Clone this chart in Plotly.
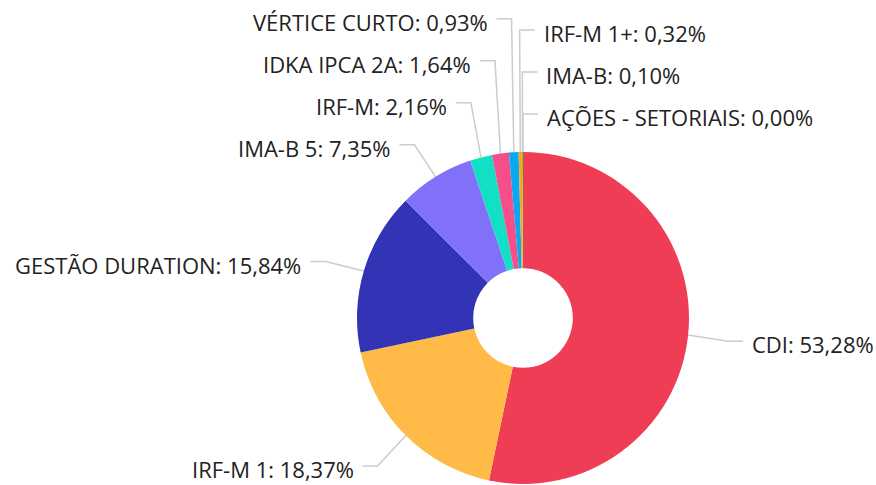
import math
import plotly.graph_objects as go

# ---- data ----
labels = ["CDI", "IRF-M 1", "GESTÃO DURATION", "IMA-B 5", "IRF-M",
          "IDKA IPCA 2A", "VÉRTICE CURTO", "IRF-M 1+", "IMA-B", "AÇÕES - SETORIAIS"]
values = [53.28, 18.37, 15.84, 7.35, 2.16, 1.64, 0.93, 0.32, 0.10, 0.00]
colors = ["#EE3D54", "#FFBA47", "#3333B5", "#8170FA", "#12E0C6",
          "#F64E8B", "#0AA8F0", "#F5A623", "#7ED321", "#9B9B9B"]

# ---- layout constants ----
W, H = 876, 485
cx, cy, R = 523, 318, 166
HOLE = 0.30
L1, L2, GAP, SPACING = 40, 15, 8, 42
LINE_DY, TEXT_DY = 2, 3
FONT = dict(family="Open Sans", size=22, color="#222222")
LINE_COLOR = "#CCCCCC"

def fmt(v):
    return f"{v:.2f}".replace(".", ",") + "%"

total = sum(values)
items = []
cum = 0.0
for i, (lab, v) in enumerate(zip(labels, values)):
    mid = (cum + v / 2) / total * 2 * math.pi
    cum += v
    dx, dy = math.sin(mid), -math.cos(mid)
    ex, ey = cx + R * dx, cy + R * dy
    px, py = cx + (R + L1) * dx, cy + (R + L1) * dy + LINE_DY
    side = 1 if ex >= cx - 4 else -1
    items.append(dict(i=i, lab=lab, v=v, ex=ex, ey=ey, px=px, py=py, side=side))

# resolve vertical overlaps per side (push upward from the bottom-most label)
for s in (1, -1):
    grp = [it for it in items if it["side"] == s]
    grp.sort(key=lambda it: (-round(it["py"]), -it["i"]))
    prev = None
    for it in grp:
        if prev is not None:
            it["py"] = min(it["py"], prev - SPACING)
        prev = it["py"]

fig = go.Figure()
fig.add_trace(go.Pie(
    labels=labels, values=values, sort=False, direction="clockwise",
    rotation=0, hole=HOLE, marker=dict(colors=colors, line=dict(width=0)),
    textinfo="none", hoverinfo="label+percent", showlegend=False,
    domain=dict(x=[(cx - R) / W, (cx + R) / W],
                y=[(H - cy - R) / H, (H - cy + R) / H]),
))

annotations = []
for it in items:
    x3 = it["px"] + it["side"] * L2
    fig.add_trace(go.Scatter(
        x=[it["ex"], it["px"], x3], y=[it["ey"], it["py"], it["py"]],
        mode="lines", line=dict(color=LINE_COLOR, width=1.5),
        hoverinfo="skip", showlegend=False))
    annotations.append(dict(
        x=x3 + it["side"] * GAP, y=it["py"] + TEXT_DY, xref="x", yref="y",
        text=f"{it['lab']}: {fmt(it['v'])}", showarrow=False,
        xanchor="left" if it["side"] == 1 else "right", yanchor="middle",
        font=FONT, borderpad=0))

fig.update_layout(
    width=W, height=H, margin=dict(l=0, r=0, t=0, b=0),
    paper_bgcolor="white", plot_bgcolor="rgba(0,0,0,0)",
    xaxis=dict(range=[0, W], visible=False, fixedrange=True),
    yaxis=dict(range=[H, 0], visible=False, fixedrange=True),
    annotations=annotations, font=FONT,
)
fig.write_html("out.html", config={"displayModeBar": False},
               post_script="document.body.style.margin='0';document.body.style.overflow='hidden';")
